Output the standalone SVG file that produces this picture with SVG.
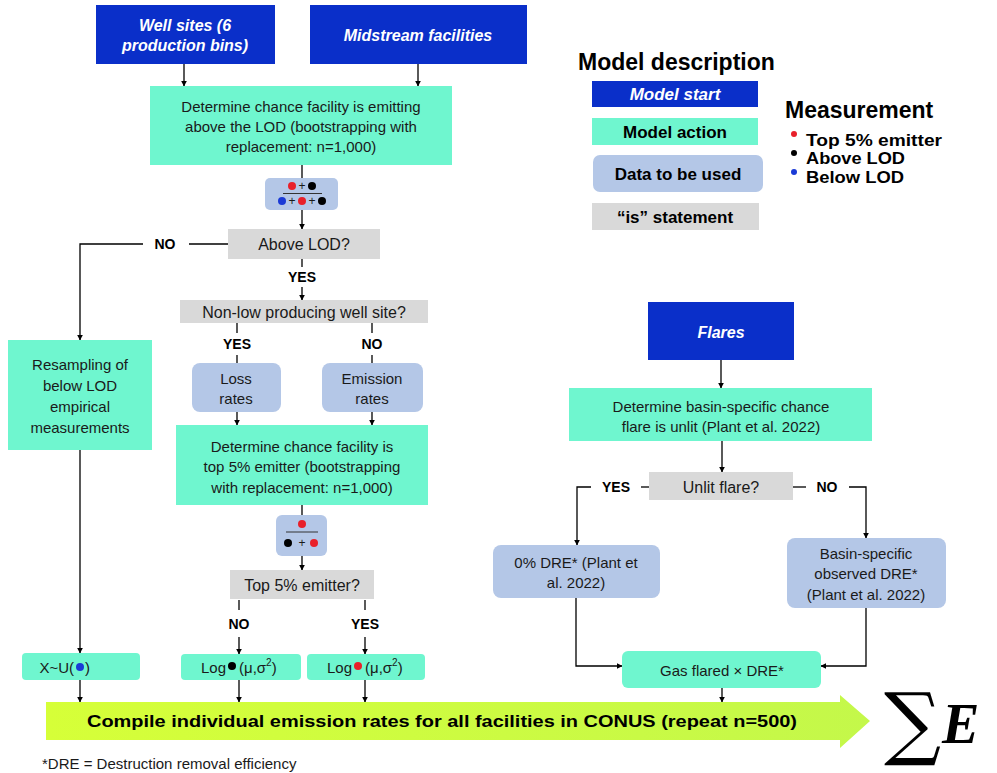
<svg xmlns="http://www.w3.org/2000/svg" width="997" height="773" viewBox="0 0 997 773">
<defs>
<marker id="ah" viewBox="0 0 10 10" refX="9" refY="5" markerWidth="6" markerHeight="6" orient="auto" markerUnits="userSpaceOnUse">
<path d="M0,0 L10,5 L0,10 z" fill="#000"/>
</marker>
<linearGradient id="band" x1="0" y1="0" x2="1" y2="0">
<stop offset="0" stop-color="#d6ff38"/>
<stop offset="1" stop-color="#c4f84a"/>
</linearGradient>
<style>
.start{fill:#0a2fc9}
.act{fill:#6ff6cf}
.data{fill:#b4c7e7}
.is{fill:#d9d9d9}
.t{font-family:"Liberation Sans",Arial,sans-serif;fill:#1a1a1a;text-anchor:middle;dominant-baseline:central}
.ts{font-family:"Liberation Sans",Arial,sans-serif;fill:#fff;font-weight:bold;font-style:italic;text-anchor:middle;dominant-baseline:central;font-size:16px}
.b{font-weight:bold;fill:#000}
.l{text-anchor:start}
.r{text-anchor:end}
.c{fill:none;stroke:#000;stroke-width:1.3}
.a{marker-end:url(#ah)}
</style>
</defs>
<rect width="997" height="773" fill="#fff"/>

<g id="connectors">
<path class="c a" d="M184,64 V86"/>
<path class="c a" d="M418,64 V86"/>
<path class="c" d="M302,165 V178"/>
<path class="c a" d="M302,210 V229"/>
<path class="c" d="M228,244 H189"/>
<path class="c a" d="M143,244 H80 V340"/>
<path class="c" d="M302,259 V267"/>
<path class="c a" d="M302,287 V300"/>
<path class="c" d="M237,323 V333"/>
<path class="c" d="M237,355 V363"/>
<path class="c" d="M372,323 V333"/>
<path class="c" d="M372,355 V363"/>
<path class="c a" d="M237,412 V425"/>
<path class="c a" d="M372,412 V425"/>
<path class="c" d="M302,505 V515"/>
<path class="c a" d="M302,556 V570"/>
<path class="c" d="M239,600 V610"/>
<path class="c a" d="M239,637 V654"/>
<path class="c" d="M365,600 V610"/>
<path class="c a" d="M365,637 V654"/>
<path class="c a" d="M80,450 V653"/>
<path class="c a" d="M80,680 V702"/>
<path class="c a" d="M239,680 V702"/>
<path class="c a" d="M365,680 V702"/>
<path class="c a" d="M722,688 V702"/>
<path class="c a" d="M721,360 V388"/>
<path class="c a" d="M722,441 V472"/>
<path class="c" d="M649,487 H641"/>
<path class="c a" d="M591,487 H577 V545"/>
<path class="c" d="M793,487 H806"/>
<path class="c a" d="M849,487 H866 V538"/>
<path class="c a" d="M576,598 V666 H622"/>
<path class="c a" d="M866,608 V666 H821"/>
<text class="t b" x="165" y="244" font-size="14">NO</text>
<text class="t b" x="302" y="277" font-size="14">YES</text>
<text class="t b" x="237" y="344" font-size="14">YES</text>
<text class="t b" x="372" y="344" font-size="14">NO</text>
<text class="t b" x="239" y="624" font-size="14">NO</text>
<text class="t b" x="365" y="624" font-size="14">YES</text>
<text class="t b" x="616" y="487" font-size="14">YES</text>
<text class="t b" x="827" y="487" font-size="14">NO</text>
</g>

<g id="well-sites">
<rect class="start" x="96" y="5" width="179" height="59"/>
<text class="ts" x="185" y="25">Well sites (6</text>
<text class="ts" x="185" y="45">production bins)</text>
</g>
<g id="midstream">
<rect class="start" x="310" y="5" width="217" height="59"/>
<text class="ts" x="418" y="35">Midstream facilities</text>
</g>
<g id="determine-lod">
<rect class="act" x="150" y="86" width="302" height="79"/>
<text class="t" x="301" y="106" font-size="15">Determine chance facility is emitting</text>
<text class="t" x="301" y="126" font-size="15">above the LOD (bootstrapping with</text>
<text class="t" x="301" y="146" font-size="15">replacement: n=1,000)</text>
</g>
<g id="formula-lod">
<rect class="data" x="265" y="178" width="73" height="32" rx="5"/>
<circle cx="292" cy="186" r="4" fill="#e8202a"/>
<text class="t" x="302" y="186" font-size="12">+</text>
<circle cx="312" cy="186" r="4" fill="#000"/>
<line x1="283" y1="193.5" x2="322" y2="193.5" stroke="#333" stroke-width="1"/>
<circle cx="282" cy="201" r="4" fill="#1a3ad6"/>
<text class="t" x="292" y="201" font-size="12">+</text>
<circle cx="302" cy="201" r="4" fill="#e8202a"/>
<text class="t" x="312" y="201" font-size="12">+</text>
<circle cx="322" cy="201" r="4" fill="#000"/>
</g>
<g id="above-lod">
<rect class="is" x="228" y="229" width="152" height="30"/>
<text class="t" x="304" y="244" font-size="16">Above LOD?</text>
</g>
<g id="non-low">
<rect class="is" x="180" y="300" width="248" height="23"/>
<text class="t" x="304" y="312" font-size="16">Non-low producing well site?</text>
</g>
<g id="loss-rates">
<rect class="data" x="192" y="363" width="89" height="49" rx="8"/>
<text class="t" x="236" y="378" font-size="15">Loss</text>
<text class="t" x="236" y="398" font-size="15">rates</text>
</g>
<g id="emission-rates">
<rect class="data" x="322" y="363" width="101" height="49" rx="8"/>
<text class="t" x="372" y="378" font-size="15">Emission</text>
<text class="t" x="372" y="398" font-size="15">rates</text>
</g>
<g id="determine-top5">
<rect class="act" x="176" y="425" width="252" height="80"/>
<text class="t" x="302" y="446" font-size="15">Determine chance facility is</text>
<text class="t" x="302" y="466" font-size="15">top 5% emitter (bootstrapping</text>
<text class="t" x="302" y="487" font-size="15">with replacement: n=1,000)</text>
</g>
<g id="formula-top5">
<rect class="data" x="276" y="515" width="51" height="41" rx="6"/>
<circle cx="302" cy="524" r="4" fill="#e8202a"/>
<line x1="286" y1="532" x2="318" y2="532" stroke="#333" stroke-width="1"/>
<circle cx="288" cy="543" r="4" fill="#000"/>
<text class="t" x="302" y="543" font-size="12">+</text>
<circle cx="314" cy="543" r="4" fill="#e8202a"/>
</g>
<g id="top5-emitter">
<rect class="is" x="230" y="570" width="144" height="29"/>
<text class="t" x="302" y="585" font-size="16">Top 5% emitter?</text>
</g>
<g id="resampling">
<rect class="act" x="8" y="340" width="144" height="110"/>
<text class="t" x="80" y="364" font-size="15">Resampling of</text>
<text class="t" x="80" y="385" font-size="15">below LOD</text>
<text class="t" x="80" y="406" font-size="15">empirical</text>
<text class="t" x="80" y="427" font-size="15">measurements</text>
</g>
<g id="uniform">
<rect class="act" x="22" y="653" width="118" height="27" rx="4"/>
<text class="t r" x="74" y="667" font-size="15">X~U(</text>
<circle cx="80" cy="667" r="4" fill="#1a3ad6"/>
<text class="t l" x="85" y="667" font-size="15">)</text>
</g>
<g id="log-above">
<rect class="act" x="181" y="654" width="120" height="26" rx="4"/>
<text class="t r" x="226" y="667" font-size="15">Log</text>
<circle cx="232" cy="666" r="4" fill="#000"/>
<text class="t l" x="239" y="667" font-size="15">(μ,σ<tspan font-size="10" dy="-5">2</tspan><tspan dy="5">)</tspan></text>
</g>
<g id="log-top5">
<rect class="act" x="307" y="654" width="118" height="26" rx="4"/>
<text class="t r" x="352" y="667" font-size="15">Log</text>
<circle cx="358" cy="666" r="4" fill="#e8202a"/>
<text class="t l" x="365" y="667" font-size="15">(μ,σ<tspan font-size="10" dy="-5">2</tspan><tspan dy="5">)</tspan></text>
</g>

<g id="flares">
<rect class="start" x="648" y="302" width="146" height="58"/>
<text class="ts" x="721" y="332">Flares</text>
</g>
<g id="determine-unlit">
<rect class="act" x="569" y="388" width="303" height="53"/>
<text class="t" x="721" y="406" font-size="15">Determine basin-specific chance</text>
<text class="t" x="721" y="426" font-size="15">flare is unlit (Plant et al. 2022)</text>
</g>
<g id="unlit-flare">
<rect class="is" x="649" y="472" width="144" height="28"/>
<text class="t" x="721" y="487" font-size="16">Unlit flare?</text>
</g>
<g id="zero-dre">
<rect class="data" x="493" y="545" width="167" height="53" rx="8"/>
<text class="t" x="576" y="562" font-size="15">0% DRE* (Plant et</text>
<text class="t" x="576" y="582" font-size="15">al. 2022)</text>
</g>
<g id="basin-dre">
<rect class="data" x="787" y="538" width="159" height="70" rx="8"/>
<text class="t" x="866" y="553" font-size="15">Basin-specific</text>
<text class="t" x="866" y="573" font-size="15">observed DRE*</text>
<text class="t" x="866" y="594" font-size="15">(Plant et al. 2022)</text>
</g>
<g id="gas-flared">
<rect class="act" x="622" y="651" width="199" height="37" rx="6"/>
<text class="t" x="722" y="670" font-size="15">Gas flared × DRE*</text>
</g>

<g id="compile">
<polygon points="46,702 840,702 840,695 870,721 840,748 840,740 46,740" fill="url(#band)"/>
<text class="t b" x="442" y="721" font-size="16" textLength="710" lengthAdjust="spacingAndGlyphs">Compile individual emission rates for all facilities in CONUS (repeat n=500)</text>
</g>
<text class="t l" x="42" y="763" font-size="15">*DRE = Destruction removal efficiency</text>
<g id="sum">
<text x="884" y="750" font-family="'DejaVu Serif',serif" font-size="80" fill="#000">∑</text>
<text x="942" y="743" font-family="'Liberation Serif',serif" font-size="56" font-weight="bold" font-style="italic" fill="#000">E</text>
</g>

<g id="legend">
<text class="t b l" x="578" y="62" font-size="23">Model description</text>
<rect class="start" x="592" y="81" width="166" height="26"/>
<text class="ts" x="675" y="94" style="font-size:17px">Model start</text>
<rect class="act" x="592" y="118" width="166" height="27"/>
<text class="t b" x="675" y="132" font-size="17">Model action</text>
<rect class="data" x="593" y="155" width="170" height="37" rx="7"/>
<text class="t b" x="678" y="174" font-size="17">Data to be used</text>
<rect class="is" x="592" y="203" width="167" height="27"/>
<text class="t b" x="675" y="217" font-size="17">“is” statement</text>
<text class="t b l" x="785" y="110" font-size="23">Measurement</text>
<circle cx="794" cy="134" r="3" fill="#e8202a"/>
<text class="t b l" x="806" y="140" font-size="17" textLength="136" lengthAdjust="spacingAndGlyphs">Top 5% emitter</text>
<circle cx="794" cy="153" r="3" fill="#000"/>
<text class="t b l" x="806" y="158" font-size="17" textLength="99" lengthAdjust="spacingAndGlyphs">Above LOD</text>
<circle cx="794" cy="172" r="3" fill="#1a3ad6"/>
<text class="t b l" x="806" y="177" font-size="17" textLength="98" lengthAdjust="spacingAndGlyphs">Below LOD</text>
</g>
</svg>
